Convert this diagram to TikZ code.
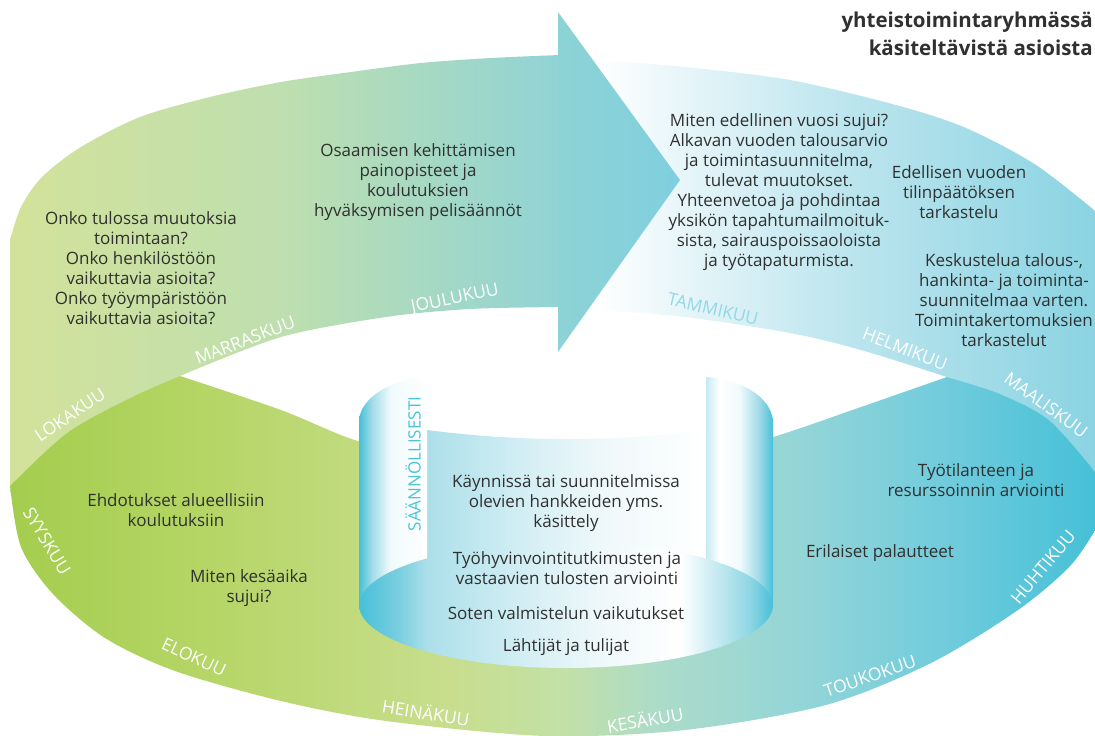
\documentclass[tikz,border=0pt]{standalone}
\usepackage{fontspec}
\setmainfont{Open Sans}

\definecolor{ink}{HTML}{303030}
\definecolor{cyantext}{HTML}{4CC3D9}
\definecolor{paletext}{HTML}{93D8E6}
\definecolor{bandlA}{HTML}{D3E29A}
\definecolor{bandlB}{HTML}{BEDFAF}
\definecolor{bandlC}{HTML}{90D3D6}
\definecolor{headA}{HTML}{8DD3D5}
\definecolor{headB}{HTML}{80CFDF}
\definecolor{bandrB}{HTML}{E3F4F8}
\definecolor{bandrC}{HTML}{BCE5EE}
\definecolor{bandrD}{HTML}{8AD3E2}
\definecolor{lowA}{HTML}{A4CD4E}
\definecolor{lowB}{HTML}{B5D565}
\definecolor{lowC}{HTML}{C8DE8E}
\definecolor{lowD}{HTML}{C3E0A6}
\definecolor{lowE}{HTML}{ADDCC8}
\definecolor{lowF}{HTML}{93D5D8}
\definecolor{lowG}{HTML}{6ECBDC}
\definecolor{lowH}{HTML}{44C0D7}
\definecolor{scrollA}{HTML}{46C0D8}
\definecolor{scrollB}{HTML}{A5DDE9}
\definecolor{scrollC}{HTML}{F0FAFC}
\definecolor{scrollD}{HTML}{C5EBF2}
\definecolor{scrollE}{HTML}{9ED9E6}
\definecolor{scrollF}{HTML}{ACDFEA}
\definecolor{scrollG}{HTML}{D2EEF4}
\definecolor{scrollH}{HTML}{7CCFE0}
\definecolor{scrollI}{HTML}{EEF8FA}
\definecolor{scrollJ}{HTML}{C0E8F0}
\definecolor{scrollK}{HTML}{8FD6E4}

\pgfdeclarehorizontalshading{bandleft}{100bp}{color(0bp)=(bandlA); color(25bp)=(bandlA); color(50bp)=(bandlB); color(75bp)=(bandlC); color(100bp)=(bandlC)}
\pgfdeclarehorizontalshading{arrowhead}{100bp}{color(0bp)=(headA); color(25bp)=(headA); color(75bp)=(headB); color(100bp)=(headB)}
\pgfdeclarehorizontalshading{bandright}{100bp}{color(0bp)=(white); color(25bp)=(white); color(35bp)=(bandrB); color(50bp)=(bandrC); color(75bp)=(bandrD); color(100bp)=(bandrD)}
\pgfdeclarehorizontalshading{bandlow}{100bp}{color(0bp)=(lowA); color(25bp)=(lowA); color(33.8bp)=(lowB); color(45.3bp)=(lowC); color(50.3bp)=(lowD); color(54.5bp)=(lowE); color(61.4bp)=(lowF); color(68.3bp)=(lowG); color(75bp)=(lowH); color(100bp)=(lowH)}
\pgfdeclarehorizontalshading{scrollleft}{100bp}{color(0bp)=(scrollA); color(25bp)=(scrollA); color(35bp)=(scrollB); color(48bp)=(scrollC); color(75bp)=(white); color(100bp)=(white)}
\pgfdeclarehorizontalshading{scrollright}{100bp}{color(0bp)=(scrollD); color(25bp)=(scrollD); color(35bp)=(white); color(50bp)=(scrollC); color(65bp)=(scrollE); color(75bp)=(scrollA); color(100bp)=(scrollA)}
\pgfdeclarehorizontalshading{scrollback}{100bp}{color(0bp)=(scrollF); color(25bp)=(scrollF); color(41.7bp)=(scrollG); color(56bp)=(scrollI); color(75bp)=(white); color(100bp)=(white)}
\pgfdeclarehorizontalshading{scrollfloor}{100bp}{color(0bp)=(scrollA); color(25bp)=(scrollA); color(30bp)=(scrollH); color(33.2bp)=(scrollF); color(44.4bp)=(scrollG); color(54.1bp)=(scrollI); color(63.8bp)=(white); color(68.6bp)=(scrollJ); color(72.2bp)=(scrollK); color(75bp)=(scrollA); color(100bp)=(scrollA)}

\begin{document}
\begin{tikzpicture}[x=1pt, y=-1pt,
  topic/.style={text=ink, align=center, inner sep=0pt, font=\fontsize{17}{20}\selectfont},
  monthlabel/.style={text=white, inner sep=0pt, font=\fontsize{17.5}{17.5}\selectfont},
  heading/.style={text=ink, align=right, inner sep=0pt, font=\bfseries\fontsize{20.5}{28}\selectfont}
]
\useasboundingbox (0,0) rectangle (1095,736);
\begin{scope}
\clip (0,0) rectangle (1095,736);

\shade[shading=bandleft] (10,486) -- (10,240)
  -- plot[smooth] coordinates {(10,240) (21,207) (42,177) (81,147) (140,117) (210,97) (281,82) (351,72) (421,63) (491,58) (560,55)}
  -- (560,307)
  -- plot[smooth] coordinates {(560,307) (470,309) (386,317) (281,337) (180,376)}
  -- plot[smooth] coordinates {(180,376) (130,398) (67,433) (10,486)} -- cycle;

\shade[shading=bandright] (597,310) -- (597,60)
  -- plot[smooth] coordinates {(597,60) (685,67) (790,80) (896,105) (966,128) (1036,165) (1100,215)}
  -- (1100,478)
  -- plot[smooth] coordinates {(1100,478) (1050,421) (1000,394) (947,377)}
  -- plot[smooth] coordinates {(947,377) (861,350) (790,333) (685,317) (597,310)} -- cycle;

\shade[shading=bandlow]
  plot[smooth] coordinates {(10,486) (67,433) (130,398) (180,376)}
  -- plot[smooth] coordinates {(180,376) (281,410) (358,441) (430,452) (566,460) (706,452) (773,437) (861,407) (947,377)}
  -- plot[smooth] coordinates {(947,377) (1000,394) (1050,421) (1100,478)}
  -- (1100,522)
  -- plot[smooth] coordinates {(1100,522) (1071,565) (1018,610) (931,663) (826,705) (685,730) (545,736) (386,721) (281,701) (175,671) (105,638) (53,594) (21,547) (10,486)} -- cycle;

\shade[shading=arrowhead] (558,12) -- (680,180) -- (558,352) -- cycle;

\shade[shading=scrollback] (427,430) .. controls (520,442) and (613,442) .. (706,430) -- (706,600) -- (427,600) -- cycle;
\shade[shading=scrollfloor] (566,605) ellipse [x radius=207, y radius=63];
\shade[shading=scrollleft] (359,605) -- (359,420) .. controls (361,397) and (392,379) .. (427,377)
  -- (427,558.3) arc [start angle=227.8, end angle=180, x radius=207, y radius=63] -- cycle;
\shade[shading=scrollright] (706,377) .. controls (740,379) and (770,396) .. (773,420)
  -- (773,605) arc [start angle=0, end angle=-47.45, x radius=207, y radius=63] -- cycle;
\end{scope}

\node[heading, anchor=east] (otsikko) at (1093,34) {yhteistoimintaryhmässä\\käsiteltävistä asioista};

\node[topic] (osaaminen) at (418,182) {Osaamisen kehittämisen\\painopisteet ja\\koulutuksien\\hyväksymisen pelisäännöt};
\node[topic] (muutokset) at (141,268) {Onko tulossa muutoksia\\toimintaan?\\Onko henkilöstöön\\vaikuttavia asioita?\\Onko työympäristöön\\vaikuttavia asioita?};
\node[topic] (vuosi) at (779,192) {Miten edellinen vuosi sujui?\\Alkavan vuoden talousarvio\\ja toimintasuunnitelma,\\tulevat muutokset.\\Yhteenvetoa ja pohdintaa\\yksikön tapahtumailmoituk-\\sista, sairauspoissaoloista\\ja työtapaturmista.};
\node[topic] (tilinpaatos) at (959,192) {Edellisen vuoden\\tilinpäätöksen\\tarkastelu};
\node[topic] (talous) at (1004,300) {Keskustelua talous-,\\hankinta- ja toiminta-\\suunnitelmaa varten.\\Toimintakertomuksien\\tarkastelut};
\node[topic] (ehdotukset) at (176,510) {Ehdotukset alueellisiin\\koulutuksiin};
\node[topic] (kesaaika) at (249,588) {Miten kesäaika\\sujui?};
\node[topic] (hankkeet) at (566,503) {Käynnissä tai suunnitelmissa\\olevien hankkeiden yms.\\käsittely};
\node[topic] (hyvinvointi) at (567,568) {Työhyvinvointitutkimusten ja\\vastaavien tulosten arviointi};
\node[topic] (sote) at (566,613) {Soten valmistelun vaikutukset};
\node[topic] (lahtijat) at (566,647) {Lähtijät ja tulijat};
\node[topic] (tyotilanne) at (976,480) {Työtilanteen ja\\resurssoinnin arviointi};
\node[topic] (palautteet) at (880,553) {Erilaiset palautteet};

\node[monthlabel, rotate=34] (lokakuu) at (70,415) {LOKAKUU};
\node[monthlabel, rotate=21] (marraskuu) at (245,340) {MARRASKUU};
\node[monthlabel, rotate=12] (joulukuu) at (455,299) {JOULUKUU};
\node[monthlabel, rotate=-13, text=paletext] (tammikuu) at (713,309) {TAMMIKUU};
\node[monthlabel, rotate=-21] (helmikuu) at (905,349) {HELMIKUU};
\node[monthlabel, rotate=-36] (maaliskuu) at (1046,405) {MAALISKUU};
\node[monthlabel, rotate=50] (huhtikuu) at (1043,567) {HUHTIKUU};
\node[monthlabel, rotate=19] (toukokuu) at (870,676) {TOUKOKUU};
\node[monthlabel, rotate=10] (kesakuu) at (645,719) {KESÄKUU};
\node[monthlabel, rotate=-9] (heinakuu) at (426,712) {HEINÄKUU};
\node[monthlabel, rotate=-25] (elokuu) at (194,657) {ELOKUU};
\node[monthlabel, rotate=-59] (syyskuu) at (47,541) {SYYSKUU};
\node[monthlabel, rotate=90, text=cyantext, font=\fontsize{17}{17}\selectfont] (saannollisesti) at (413,464) {SÄÄNNÖLLISESTI};
\end{tikzpicture}
\end{document}
